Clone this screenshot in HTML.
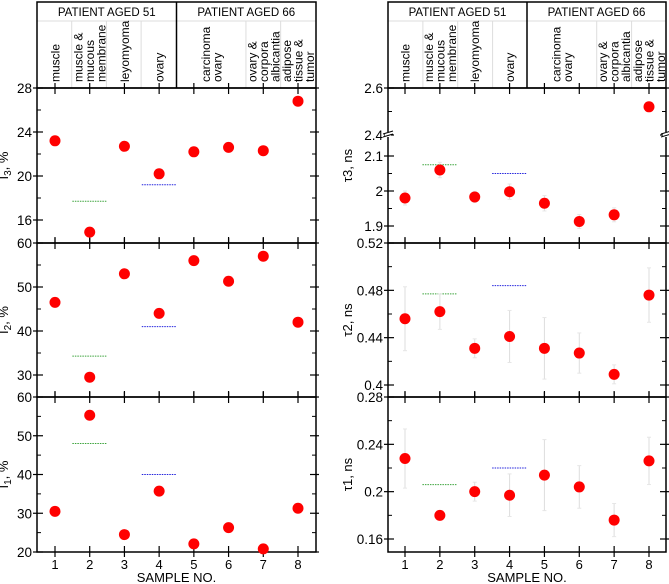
<!DOCTYPE html>
<html><head><meta charset="utf-8"><style>
body{margin:0;background:#fff}
svg{display:block;font-family:"Liberation Sans",sans-serif}
</style></head><body>
<svg id="c" width="669" height="584" viewBox="0 0 669 584"></svg>
<script>
const samples=[1,2,3,4,5,6,7,8];
const tissues=[["muscle"],["muscle &","mucous","membrane"],["leyomyoma"],["ovary"],["carcinoma","ovary"],["ovary &","corpora","albicantia"],["adipose","tissue &","tumor"]];
const I3=[23.2,14.9,22.7,20.2,22.2,22.6,22.3,26.8];
const I2=[46.5,29.5,53,44,56,51.3,57,42];
const I1=[30.5,55.3,24.5,35.7,22.1,26.3,20.8,31.3];
const I3ref=[17.7,19.2], I2ref=[34.3,41], I1ref=[48,40];
const T3=[1.98,2.06,1.983,1.998,1.965,1.913,1.932,2.52];
const T3err=[0.02,0.022,0.016,0.022,0.022,0.02,0.02,0.02];
const T2=[0.456,0.462,0.431,0.441,0.431,0.427,0.409,0.476];
const T2err=[0.027,0.015,0.008,0.022,0.026,0.017,0.008,0.023];
const T1=[0.228,0.180,0.200,0.197,0.214,0.204,0.176,0.226];
const T1err=[0.025,0,0.008,0.018,0.030,0.018,0.014,0.020];
const T3ref=[2.075,2.05], T2ref=[0.477,0.484], T1ref=[0.206,0.220];
const I3ticks=["16","20","24","28"], I2ticks=["30","40","50","60"], I1ticks=["20","30","40","50","60"];
const T3ticks=["1.9","2","2.1","2.4","2.6"], T2ticks=["0.4","0.44","0.48","0.52"], T1ticks=["0.16","0.2","0.24","0.28"];

const svg=document.getElementById('c');
const NS='http://www.w3.org/2000/svg';
function el(tag,attrs,parent){const e=document.createElementNS(NS,tag);for(const k in attrs)e.setAttribute(k,attrs[k]);(parent||svg).appendChild(e);return e;}
function txt(s,attrs,parent){const e=el('text',attrs,parent);e.textContent=s;return e;}

function panelSet(side){
  const L=side==='L'?{x0:37,x1:316,s1:55,s8:298,tOff:29}:{x0:388,x1:666,s1:405,s8:649,tOff:36};
  L.xs=v=>L.s1+(v-1)*(L.s8-L.s1)/7;
  return L;
}
const PL=panelSet('L'), PR=panelSet('R');

function header(P,name){
  const g=el('g',{});
  
  
  const sep=(P.xs(4)+P.xs(5))/2;
  const h=(P.s8-P.s1)/7;
  const bounds=[P.x0,P.x0+h,P.x0+2*h,P.x0+3*h,sep,sep+2*h,sep+3*h,P.x1];
  el('line',{x1:P.x0,y1:21,x2:P.x1,y2:21,stroke:'#ddd','stroke-width':1},g);
  for(let i=1;i<bounds.length-1;i++){ if(i===4)continue;
    el('line',{x1:bounds[i],y1:21,x2:bounds[i],y2:88,stroke:'#ddd','stroke-width':1},g);}
  el('rect',{x:P.x0,y:2,width:P.x1-P.x0,height:86,fill:'none',stroke:'#000','stroke-width':1.5},g);
  el('line',{x1:sep,y1:2,x2:sep,y2:88,stroke:'#000','stroke-width':1.5},g);
  const a=txt('PATIENT AGED 51',{x:(P.x0+sep)/2,y:16,'font-size':11.5,'text-anchor':'middle'},g);
  
  const b=txt('PATIENT AGED 66',{x:(sep+P.x1)/2,y:16,'font-size':11.5,'text-anchor':'middle'},g);
  
  tissues.forEach((lines,i)=>{
    const cx=i<4?P.xs(i+1):(i===4?P.xs(5.5):P.xs(i+2));
    const n=lines.length;
    lines.forEach((ln,j)=>{
      const x=cx+(j-(n-1)/2)*11.5+4.5;
      const t=txt(ln,{x:x,y:82,'font-size':12,transform:`rotate(-90 ${x} 82)`},g);
      
      
    });
  });
}

function panel(P,y0,y1,ys,vals,errs,refs,ticks,minor,title,sub,rest,name,isBottom,brk){
  const g=el('g',{});
  
  
  const cols=['#3ba33b','#2222dd'];
  refs.forEach((r,i)=>{const s=i===0?2:4;
    const l=el('line',{x1:P.xs(s-0.5),y1:ys(r),x2:P.xs(s+0.5),y2:ys(r),stroke:cols[i],'stroke-width':1,'stroke-dasharray':'1.5,1'},g);
    
    });
  vals.forEach((v,i)=>{const x=P.xs(samples[i]);
    if(errs&&errs[i]>0){
      const e=el('line',{x1:x,y1:ys(v-errs[i]),x2:x,y2:ys(v+errs[i]),stroke:'#ddd','stroke-width':1},g);
      
      [v-errs[i],v+errs[i]].forEach(w=>el('line',{x1:x-2,y1:ys(w),x2:x+2,y2:ys(w),stroke:'#e6e6e6'},g));
    }
  });
  el('rect',{x:P.x0,y:y0,width:P.x1-P.x0,height:y1-y0,fill:'none',stroke:'#000','stroke-width':1.5},g);
  samples.forEach(s=>{const x=P.xs(s);
    el('line',{x1:x,y1:y0-5,x2:x,y2:y0+6,stroke:'#000','stroke-width':1.2},g);
    el('line',{x1:x,y1:y1-6,x2:x,y2:y1+(isBottom?5:0),stroke:'#000','stroke-width':1.2},g);});
  ticks.forEach(t=>{const y=ys(parseFloat(t));
    el('line',{x1:P.x0-4,y1:y,x2:P.x0+6,y2:y,stroke:'#000','stroke-width':1.2},g);
    el('line',{x1:P.x1-6,y1:y,x2:P.x1+3,y2:y,stroke:'#000','stroke-width':1.2},g);
    const lab=txt(t,{x:P.x0-5,y:y+5,'font-size':13.5,'text-anchor':'end'},g);
    
  });
  minor.forEach(v=>{const y=ys(v);
    el('line',{x1:P.x0,y1:y,x2:P.x0+4,y2:y,stroke:'#000','stroke-width':1},g);
    el('line',{x1:P.x1-4,y1:y,x2:P.x1,y2:y,stroke:'#000','stroke-width':1},g);});
  if(brk){const y=brk;
    el('rect',{x:P.x0-3,y:y-3,width:6,height:5,fill:'#fff'},g);
    el('rect',{x:P.x1-3,y:y-3,width:6,height:5,fill:'#fff'},g);
    [P.x0,P.x1].forEach(x=>{el('line',{x1:x-5,y1:y-1,x2:x+5,y2:y-4,stroke:'#000'},g);el('line',{x1:x-5,y1:y+2,x2:x+5,y2:y-1,stroke:'#000'},g);});
  }
  vals.forEach((v,i)=>{
    const c=el('circle',{cx:P.xs(samples[i]),cy:ys(v),r:5.5,fill:'#f00'},g);
    
    
  });
  const ty=(y0+y1)/2, tx=P.x0-P.tOff;
  const t=el('text',{x:tx,y:ty,'font-size':13,'text-anchor':'middle',transform:`rotate(-90 ${tx} ${ty})`},g);
  
  t.appendChild(document.createTextNode(title));
  if(sub){const ts=document.createElementNS(NS,'tspan');ts.setAttribute('font-size',10);ts.setAttribute('dy',3);ts.textContent=sub;t.appendChild(ts);
    const t2=document.createElementNS(NS,'tspan');t2.setAttribute('dy',-3);t2.textContent=rest;t.appendChild(t2);}
  else{t.appendChild(document.createTextNode(rest));}
  if(isBottom){
    samples.forEach(s=>{const l=txt(String(s),{x:P.xs(s),y:569,'font-size':13,'text-anchor':'middle'},g);
      });
    const xt=txt('SAMPLE NO.',{x:(P.x0+P.x1)/2,y:582,'font-size':13,'text-anchor':'middle'},g);
    
  }
}
const lin=(d0,d1,r0,r1)=>v=>r0+(v-d0)*(r1-r0)/(d1-d0);
header(PL,'header-left');header(PR,'header-right');
panel(PL,88,243,lin(16,28,220,88),I3,null,I3ref,I3ticks,[18,22,26],'I','3',', %','panel-i3',false);
panel(PL,243,397,lin(30,60,375,243),I2,null,I2ref,I2ticks,[35,45,55],'I','2',', %','panel-i2',false);
panel(PL,397,552,lin(20,60,552,397),I1,null,I1ref,I1ticks,[25,35,45,55],'I','1',', %','panel-i1',true);
const t3s=v=>v>=2.3?88+(2.6-v)*235:156-(v-2.1)*350;
panel(PR,88,243,t3s,T3,T3err,T3ref,T3ticks,[1.95,2.05,2.5],'τ3, ns','','','panel-tau3',false,135);
panel(PR,243,397,lin(0.4,0.52,385,243),T2,T2err,T2ref,T2ticks,[0.42,0.46,0.5],'τ2, ns','','','panel-tau2',false);
panel(PR,397,552,lin(0.16,0.28,539,397),T1,T1err,T1ref,T1ticks,[0.18,0.22,0.26],'τ1, ns','','','panel-tau1',true);
</script>
</body></html>
